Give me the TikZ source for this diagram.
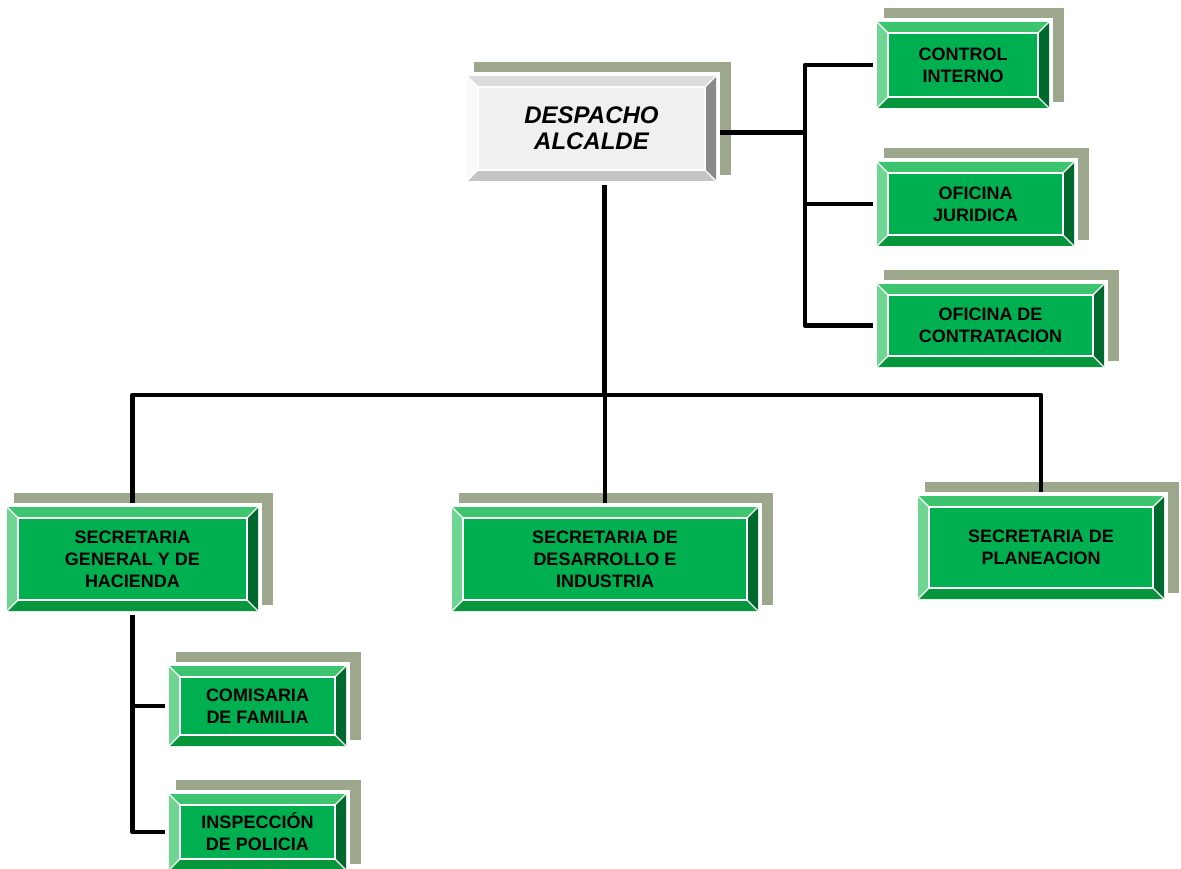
\documentclass[tikz,border=0pt]{standalone}
\usepackage{fontspec}
\setmainfont{Liberation Sans}

% green scheme
\definecolor{gface}{HTML}{00B050}
\definecolor{gtop}{HTML}{3DC46E}
\definecolor{gleft}{HTML}{6FD592}
\definecolor{gright}{HTML}{006A2E}
\definecolor{gbottom}{HTML}{07963C}
% grey scheme
\definecolor{wface}{HTML}{F0F0F0}
\definecolor{wtop}{HTML}{DCDCDC}
\definecolor{wleft}{HTML}{FAFAFA}
\definecolor{wright}{HTML}{8A8A8A}
\definecolor{wbottom}{HTML}{C4C4C4}
\definecolor{shadowc}{HTML}{9DA78B}

\tikzset{
  link/.style={line width=4.5pt, line join=round, draw=black},
  boxtext/.style={inner sep=0pt, align=center, font=\bfseries\fontsize{18}{22}\selectfont},
  headtext/.style={inner sep=0pt, align=center, font=\bfseries\itshape\fontsize{24}{26}\selectfont}
}

% #1 name, #2-#5 outer corners, #6 colour scheme prefix, #7 text style, #8 text
\newcommand\orgbox[8]{%
  \fill[shadowc] (#2+11,#3-10) rectangle (#4+11,#5-10);
  \fill[white] (#2,#3) rectangle (#4,#5);
  \fill[#6top] (#2+4,#3+4) -- (#4-4,#3+4) -- (#4-15,#3+15) -- (#2+15,#3+15) -- cycle;
  \fill[#6bottom] (#2+4,#5-4) -- (#4-4,#5-4) -- (#4-15,#5-15) -- (#2+15,#5-15) -- cycle;
  \fill[#6left] (#2+4,#3+4) -- (#2+15,#3+15) -- (#2+15,#5-15) -- (#2+4,#5-4) -- cycle;
  \fill[#6right] (#4-4,#3+4) -- (#4-15,#3+15) -- (#4-15,#5-15) -- (#4-4,#5-4) -- cycle;
  \draw[white, line width=1.2pt] (#2+4,#3+4) -- (#2+15,#3+15)
        (#4-4,#3+4) -- (#4-15,#3+15) (#2+4,#5-4) -- (#2+15,#5-15) (#4-4,#5-4) -- (#4-15,#5-15);
  \filldraw[fill=#6face, draw=white, line width=2pt] (#2+15,#3+15) rectangle (#4-15,#5-15);
  \node[#7, minimum width={#4-#2}, minimum height={#5-#3}]
       (#1) at ({(#2+#4)/2},{(#3+#5)/2}) {#8};
}

\begin{document}
\begin{tikzpicture}[x=1pt, y=-1pt]
  \useasboundingbox (0,0) rectangle (1181,869);
  \clip (0,0) rectangle (1181,869);
  \fill[white] (0,0) rectangle (1181,869);

  \coordinate (busy) at (0,395);
  \coordinate (rt) at (805,0);

  % boxes
  \orgbox{alc}{463}{72}{720}{185}{w}{headtext}{DESPACHO\\ALCALDE}
  \orgbox{ci}{873}{18}{1053}{112}{g}{boxtext}{CONTROL\\INTERNO}
  \orgbox{oj}{873}{158}{1078}{250}{g}{boxtext}{OFICINA\\JURIDICA}
  \orgbox{oc}{873}{280}{1108}{371}{g}{boxtext}{OFICINA DE\\CONTRATACION}
  \orgbox{sg}{3}{503}{262}{615}{g}{boxtext}{SECRETARIA\\GENERAL Y DE\\HACIENDA}
  \orgbox{sd}{448}{503}{762}{615}{g}{boxtext}{SECRETARIA DE\\DESARROLLO E\\INDUSTRIA}
  \orgbox{sp}{914}{492}{1168}{603}{g}{boxtext}{SECRETARIA DE\\PLANEACION}
  \orgbox{cf}{165}{662}{350}{750}{g}{boxtext}{COMISARIA\\DE FAMILIA}
  \orgbox{ip}{165}{790}{350}{874}{g}{boxtext}{INSPECCIÓN\\DE POLICIA}

  % main trunk and bus
  \draw[link] ([xshift=13pt]alc.south) -- ([xshift=13pt]alc.south |- busy);
  \draw[link] (sg.north) -- (sg.north |- busy) -- (sp.north |- busy) -- (sp.north);
  \draw[link] (sd.north) -- (sd.north |- busy);

  % staff offices on the right
  \draw[link] ([yshift=-4pt]alc.east) -- ([yshift=-4pt]alc.east -| rt);
  \draw[link] (ci.west) -- (ci.west -| rt) -- (oc.west -| rt) -- (oc.west);
  \draw[link] (oj.west -| rt) -- (oj.west);

  % units under the general secretariat
  \draw[link] (sg.south) -- (sg.south |- ip.west) -- (ip.west);
  \draw[link] (sg.south |- cf.west) -- (cf.west);
\end{tikzpicture}
\end{document}
